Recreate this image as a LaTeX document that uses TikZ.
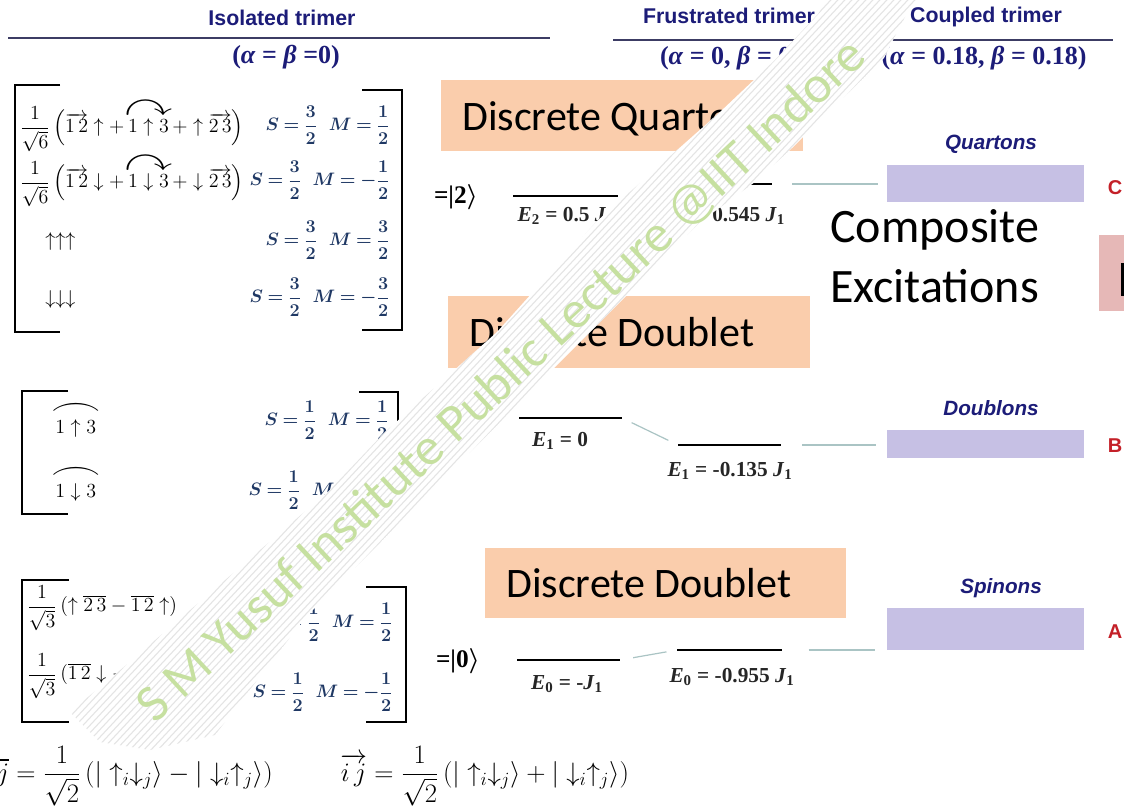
\RequirePackage{fix-cm}
\documentclass[tikz,border=0pt]{standalone}
\usepackage{amsmath,amssymb}
\usepackage{graphicx}
\usepackage{fontspec}
\newfontfamily\arialf{Liberation Sans}
\newfontfamily\timesf{Liberation Serif}
\newfontfamily\calib{Carlito}
\definecolor{hdrblue}{RGB}{28,28,120}
\definecolor{smblue}{RGB}{31,56,100}
\definecolor{peach}{RGB}{250,205,172}
\definecolor{lav}{RGB}{198,192,228}
\definecolor{pinkb}{RGB}{230,184,183}
\definecolor{connc}{RGB}{170,196,196}
\definecolor{redl}{RGB}{196,32,40}
\definecolor{wmgreen}{RGB}{198,224,160}
\definecolor{stripec}{RGB}{228,228,228}
\definecolor{rulec}{RGB}{60,60,100}
\newcommand{\arcarrow}{\scalebox{2.4}[1.7]{$\boldsymbol{\curvearrowright}$}}
\newcommand{\arcfrown}{\scalebox{2.6}[1.6]{$\frown$}}
\newcommand{\SM}[2]{$S\mkern4mu{=}\mkern4mu\dfrac{#1}{2}\;\;M\mkern4mu{=}\mkern4mu#2$}
\tikzset{
 hdr/.style={font=\arialf\bfseries\fontsize{16}{19}\selectfont, text=hdrblue, inner sep=0pt},
 parl/.style={font=\timesf\bfseries\fontsize{19.5}{22}\selectfont, text=hdrblue, inner sep=0pt},
 hrule/.style={draw=rulec, line width=1.3pt},
 bra/.style={draw=black, line width=1.1pt},
 mth/.style={font=\fontsize{15}{18}\selectfont, inner sep=0pt},
 bigmth/.style={font=\fontsize{20}{23}\selectfont, inner sep=0pt},
 smq/.style={font=\fontsize{13.5}{16}\selectfont\boldmath, text=smblue, inner sep=0pt},
 ket/.style={font=\timesf\bfseries\fontsize{19}{22}\selectfont\boldmath, inner sep=0pt},
 elab/.style={font=\timesf\bfseries\fontsize{16}{18}\selectfont, text=black!85, inner sep=0pt},
 level/.style={draw=black, line width=1.8pt},
 conn/.style={draw=connc, line width=0.9pt},
 obox/.style={fill=peach, draw=none, anchor=north west, inner sep=0pt},
 otext/.style={font=\calib\fontsize{31.5}{36}\selectfont, anchor=base west, inner sep=0pt},
 lbox/.style={fill=lav, draw=none, anchor=north west, inner sep=0pt, minimum width=147.75pt},
 plab/.style={font=\arialf\bfseries\itshape\fontsize{15.5}{18}\selectfont, text=hdrblue, inner sep=0pt},
 rlab/.style={font=\arialf\bfseries\fontsize{15}{18}\selectfont, text=redl, inner sep=0pt},
 comp/.style={font=\calib\fontsize{36}{42}\selectfont, anchor=base west, inner sep=0pt},
 wm/.style={font=\calib\fontsize{39.5}{44}\selectfont, text=wmgreen, inner sep=0pt},
}
\begin{document}
\begin{tikzpicture}[x=0.75pt,y=-0.75pt]
\useasboundingbox (0,0) rectangle (1124,811);
\fill[white] (0,0) rectangle (1124,811);

% ---------- headers
\node[hdr] (h1) at (282,18) {Isolated trimer};
\node[hdr] (h2) at (729,16) {Frustrated trimer};
\node[hdr] (h3) at (986,17) {Coupled trimer};
\draw[hrule] (8,38) -- (550,38);
\draw[hrule] (613,40) -- (852,40);
\draw[hrule] (872,40) -- (1113,40);
\node[parl] (p1) at (286,57) {(\textit{α} = \textit{β} =0)};
\node[parl] (p2) at (730,58) {(\textit{α} = 0, \textit{β} = 0)};
\node[parl] (p3) at (984,58) {(\textit{α} = 0.18, \textit{β} = 0.18)};

% ---------- quartet matrix
\draw[bra] (60,85) -- (15,85) -- (15,332) -- (60,332);
\draw[bra] (362,90) -- (402,90) -- (402,330) -- (362,330);
\node[mth, anchor=west] (q1) at (20,125) {$\dfrac{1}{\sqrt{6}}\,\Bigl(\overrightarrow{1\,2}\uparrow+\overset{\arcarrow}{1\uparrow3}+\uparrow\overrightarrow{2\,3}\Bigr)$};
\node[mth, anchor=west] (q2) at (20,180) {$\dfrac{1}{\sqrt{6}}\,\Bigl(\overrightarrow{1\,2}\downarrow+\overset{\arcarrow}{1\downarrow3}+\downarrow\overrightarrow{2\,3}\Bigr)$};
\node[mth, anchor=west] (q3) at (45,241) {$\uparrow\uparrow\uparrow$};
\node[mth, anchor=west] (q4) at (45,299) {$\downarrow\downarrow\downarrow$};
\node[smq, anchor=east] (qs1) at (390,125) {\SM{3}{\dfrac{1}{2}}};
\node[smq, anchor=east] (qs2) at (390,180) {\SM{3}{{-}\dfrac{1}{2}}};
\node[smq, anchor=east] (qs3) at (390,240) {\SM{3}{\dfrac{3}{2}}};
\node[smq, anchor=east] (qs4) at (390,297) {\SM{3}{{-}\dfrac{3}{2}}};
\node[ket] (k2) at (456,197) {=|2$\rangle$};

% ---------- doublet matrix
\draw[bra] (68,391) -- (22,391) -- (22,514) -- (68,514);
\draw[bra] (359,392) -- (398,392) -- (398,514) -- (359,514);
\node[mth, anchor=west] (d1) at (50,420) {$\overset{\arcfrown}{1\uparrow3}$};
\node[mth, anchor=west] (d2) at (50,484) {$\overset{\arcfrown}{1\downarrow3}$};
\node[smq, anchor=east] (ds1) at (389,420) {\SM{1}{\dfrac{1}{2}}};
\node[smq, anchor=east] (ds2) at (389,490) {\SM{1}{{-}\dfrac{1}{2}}};

% ---------- spinon matrix
\draw[bra] (69,580) -- (22,580) -- (22,722) -- (69,722);
\draw[bra] (366,587) -- (406,587) -- (406,722) -- (366,722);
\node[mth, anchor=west] (sp1) at (27,608) {$\dfrac{1}{\sqrt{3}}\,(\uparrow\overline{2\,3}-\overline{1\,2}\uparrow)$};
\node[mth, anchor=west] (sp2) at (27,676) {$\dfrac{1}{\sqrt{3}}\,(\overline{1\,2}\downarrow-\downarrow\overline{2\,3})$};
\node[smq, anchor=east] (ss1) at (393,622) {\SM{1}{\dfrac{1}{2}}};
\node[smq, anchor=east] (ss2) at (393,692) {\SM{1}{{-}\dfrac{1}{2}}};
\node[ket] (k0) at (458,661) {=|0$\rangle$};

% ---------- bottom formulas
\node[bigmth, anchor=east] (f1) at (273,776) {$\overline{i\,j}=\dfrac{1}{\sqrt{2}}\,(|\uparrow_i\downarrow_j\rangle-|\downarrow_i\uparrow_j\rangle)$};
\node[bigmth, anchor=west] (f2) at (340,776) {$\overrightarrow{i\,j}=\dfrac{1}{\sqrt{2}}\,(|\uparrow_i\downarrow_j\rangle+|\downarrow_i\uparrow_j\rangle)$};

% ---------- orange boxes
\node[obox, minimum width=271.5pt, minimum height=53.25pt] (ob1) at (441,80) {};
\node[otext] (ot1) at (462,130) {Discrete Quartet};
\node[obox, minimum width=271.5pt, minimum height=54pt] (ob2) at (448,296) {};
\node[otext] (ot2) at (469,346) {Discrete Doublet};
\node[obox, minimum width=270.75pt, minimum height=52.5pt] (ob3) at (485,548) {};
\node[otext] (ot3) at (506,597) {Discrete Doublet};

% ---------- energy levels
\coordinate (L2aw) at (513,196); \coordinate (L2ae) at (618,196);
\coordinate (L2bw) at (678,184); \coordinate (L2be) at (772,184);
\coordinate (L1aw) at (519,418); \coordinate (L1ae) at (622,418);
\coordinate (L1bw) at (678,445); \coordinate (L1be) at (781,445);
\coordinate (L0aw) at (517,660); \coordinate (L0ae) at (620,660);
\coordinate (L0bw) at (677,650); \coordinate (L0be) at (782,650);
\draw[level] (L2aw) -- (L2ae);
\draw[level] (L2bw) -- (L2be);
\draw[level] (L1aw) -- (L1ae);
\draw[level] (L1bw) -- (L1be);
\draw[level] (L0aw) -- (L0ae);
\draw[level] (L0bw) -- (L0be);
\node[elab] (e2a) at (566,216) {\textit{E}\textsubscript{2} = 0.5 \textit{J}\textsubscript{1}};
\node[elab] (e2b) at (726,216) {\textit{E}\textsubscript{2} = 0.545 \textit{J}\textsubscript{1}};
\node[elab] (e1a) at (560,441) {\textit{E}\textsubscript{1} = 0};
\node[elab] (e1b) at (730,471) {\textit{E}\textsubscript{1} = -0.135 \textit{J}\textsubscript{1}};
\node[elab] (e0a) at (567,684) {\textit{E}\textsubscript{0} = -\textit{J}\textsubscript{1}};
\node[elab] (e0b) at (732,677) {\textit{E}\textsubscript{0} = -0.955 \textit{J}\textsubscript{1}};

% ---------- lavender boxes and labels
\node[lbox, minimum height=27.75pt] (qbox) at (887,165) {};
\node[lbox, minimum height=21pt] (dbox) at (887,430) {};
\node[lbox, minimum height=31.5pt] (sbox) at (887,608) {};
\node[plab] (ql) at (991,144) {Quartons};
\node[plab] (dl) at (991,408) {Doublons};
\node[plab] (sl) at (1001,588) {Spinons};
\node[rlab] (rc) at (1115,188) {C};
\node[rlab] (rb) at (1115,446) {B};
\node[rlab] (ra) at (1115,632) {A};
\fill[pinkb] (1099,235) rectangle (1130,311);
\fill[black] (1121,263) rectangle (1126,296);

% ---------- connectors
\draw[conn, shorten <=8pt, shorten >=8pt] (L2ae) -- (L2bw);
\draw[conn, shorten <=8pt, shorten >=8pt] (L1ae) -- (L1bw);
\draw[conn, shorten <=10pt, shorten >=8pt] (L0ae) -- (L0bw);
\draw[conn, shorten <=15pt, shorten >=7pt] (L2be) -- (L2be -| qbox.west);
\draw[conn, shorten <=16pt, shorten >=8pt] (L1be) -- (L1be -| dbox.west);
\draw[conn, shorten <=20pt, shorten >=9pt] (L0be) -- (L0be -| sbox.west);

% ---------- composite excitations
\node[comp] (ce1) at (830,242) {Composite};
\node[comp] (ce2) at (830,302) {Excitations};

% ---------- watermark band
\begin{scope}
\clip (70,712) -- (118,672) -- (330,490) -- (385,432) -- (497,332) -- (596,222) -- (720,112) -- (775,60) -- (818,14) -- (830,-4) -- (918,-4) -- (905,17) -- (893,40) -- (884,58) -- (792,148) -- (755,182) -- (700,222) -- (590,332) -- (305,618) -- (215,735) -- (150,750) -- (100,742) -- cycle;
\fill[white] (0,0) rectangle (1124,811);
\foreach \k in {-420,-413,...,420}
  \draw[stripec, line width=0.8pt] ({485+\k-700},{385+749}) -- ({485+\k+700},{385-749});
\end{scope}
\node[wm, rotate=43] (wmk) at (502,381) {S M Yusuf Institute Public Lecture @IIT Indore};
\end{tikzpicture}
\end{document}
